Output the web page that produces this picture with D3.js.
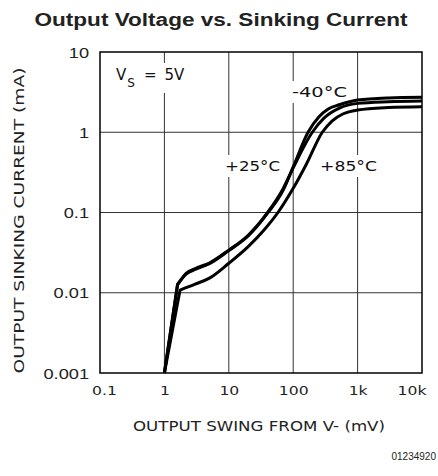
<!DOCTYPE html>
<html>
<head>
<meta charset="utf-8">
<script src="https://cdn.jsdelivr.net/npm/d3@7"></script>
<style>
  body { margin: 0; background: #fff; }
  svg { display: block; }
</style>
</head>
<body>
<div id="chart"></div>
<script>
// Axis ticks
const xTicks = [0.1, 1, 10, 100, 1000, 10000];
const xTickLabels = ['0.1', '1', '10', '100', '1k', '10k'];
const yTicks = [0.001, 0.01, 0.1, 1, 10];
const yTickLabels = ['0.001', '0.01', '0.1', '1', '10'];

// Output swing from V- (mV) vs sinking current (mA)
const swingM40 = [1, 1.6, 2.2, 3, 5, 10, 20, 40, 70, 100, 170, 250, 350, 520, 1000, 3000, 10000];
const sinkM40  = [0.001, 0.0128, 0.0172, 0.0195, 0.023, 0.0335, 0.051, 0.098, 0.19, 0.37, 1.0, 1.55, 1.95, 2.2, 2.52, 2.68, 2.73];

const swing25 = [1, 1.6, 2.2, 3, 5, 10, 20, 40, 70, 100, 198, 300, 520, 1000, 3000, 10000];
const sink25  = [0.001, 0.0125, 0.0176, 0.02, 0.0235, 0.034, 0.052, 0.1, 0.2, 0.36, 1.0, 1.5, 2.0, 2.29, 2.4, 2.45];

const swing85 = [1, 1.75, 3, 5, 10, 20, 35, 58, 100, 160, 283, 400, 600, 1000, 3000, 10000];
const sink85  = [0.001, 0.0108, 0.0128, 0.0152, 0.0233, 0.0376, 0.06, 0.1, 0.2, 0.4, 1.0, 1.38, 1.7, 1.89, 2.03, 2.08];

const series = [
    { name: '-40', x: swingM40, y: sinkM40 },
    { name: '+25', x: swing25, y: sink25 },
    { name: '+85', x: swing85, y: sink85 }
];

const W = 438, H = 476;
const margin = { top: 52, right: 16, bottom: 103, left: 100 };
const width = W - margin.left - margin.right;
const height = H - margin.top - margin.bottom;

const svg = d3.select('#chart').append('svg')
    .attr('width', W)
    .attr('height', H);

const plotFont = 'DejaVu Sans, sans-serif';
const sansFont = 'Liberation Sans, Arial, sans-serif';

// Title
svg.append('text')
    .attr('x', 221)
    .attr('y', 26)
    .attr('text-anchor', 'middle')
    .attr('font-family', sansFont)
    .attr('font-weight', 'bold')
    .attr('font-size', 18)
    .attr('fill', '#222')
    .attr('textLength', 373)
    .attr('lengthAdjust', 'spacingAndGlyphs')
    .text('Output Voltage vs. Sinking Current');

const g = svg.append('g')
    .attr('transform', `translate(${margin.left},${margin.top})`);

const xScale = d3.scaleLog().domain([0.1, 10000]).range([0, width]);
const yScale = d3.scaleLog().domain([0.001, 10]).range([height, 0]);

// Grid lines
g.append('g')
    .selectAll('line.vgrid')
    .data(xTicks.slice(1, -1))
    .enter()
    .append('line')
    .attr('x1', d => xScale(d)).attr('x2', d => xScale(d))
    .attr('y1', 0).attr('y2', height)
    .attr('stroke', '#333')
    .attr('stroke-width', 1);

g.append('g')
    .selectAll('line.hgrid')
    .data(yTicks.slice(1, -1))
    .enter()
    .append('line')
    .attr('x1', 0).attr('x2', width)
    .attr('y1', d => yScale(d)).attr('y2', d => yScale(d))
    .attr('stroke', '#333')
    .attr('stroke-width', 1);

// Y tick labels
const yAxis = g.append('g')
    .call(d3.axisLeft(yScale).tickValues(yTicks).tickSize(0).tickPadding(0)
        .tickFormat((d, i) => yTickLabels[i]));
yAxis.select('.domain').remove();
yAxis.selectAll('text')
    .attr('x', 0)
    .attr('dy', null)
    .attr('dominant-baseline', 'central')
    .attr('font-family', sansFont)
    .attr('font-size', 14)
    .attr('fill', '#222')
    .attr('transform', 'translate(-11,0) scale(1.3,1)');

// X tick labels
const xAxis = g.append('g')
    .attr('transform', `translate(0,${height})`)
    .call(d3.axisBottom(xScale).tickValues(xTicks).tickSize(0).tickPadding(0)
        .tickFormat((d, i) => xTickLabels[i]));
xAxis.select('.domain').remove();
xAxis.selectAll('text')
    .attr('y', 0)
    .attr('dy', null)
    .attr('font-family', plotFont)
    .attr('font-size', 12.5)
    .attr('fill', '#222')
    .attr('text-anchor', (d, i) => i === xTicks.length - 1 ? 'end' : 'middle')
    .attr('transform', (d, i) => {
        const dx = i === 0 ? 4 : (i === xTicks.length - 1 ? 4 : 0);
        return `translate(${dx},22) scale(1.25,1)`;
    });

// Axis titles
g.append('text')
    .attr('x', width / 2 - 2)
    .attr('y', height + 58)
    .attr('text-anchor', 'middle')
    .attr('font-family', plotFont)
    .attr('font-size', 14)
    .attr('fill', '#222')
    .attr('textLength', 252)
    .attr('lengthAdjust', 'spacingAndGlyphs')
    .text('OUTPUT SWING FROM V- (mV)');

g.append('text')
    .attr('transform', `translate(${-margin.left + 24},${height / 2 + 8}) rotate(-90)`)
    .attr('text-anchor', 'middle')
    .attr('font-family', plotFont)
    .attr('font-size', 14)
    .attr('fill', '#222')
    .attr('textLength', 306)
    .attr('lengthAdjust', 'spacingAndGlyphs')
    .text('OUTPUT SINKING CURRENT (mA)');

// Figure code
svg.append('text')
    .attr('x', 436)
    .attr('y', 460)
    .attr('text-anchor', 'end')
    .attr('font-family', sansFont)
    .attr('font-size', 10)
    .attr('fill', '#222')
    .text('01234920');

// Annotations (white box behind each one breaks the grid line)
const notes = g.append('g');

function addNote(x, y, txt, len) {
    return notes.append('text')
        .attr('x', x)
        .attr('y', y)
        .attr('font-family', plotFont)
        .attr('font-size', 14)
        .attr('fill', '#111')
        .attr('textLength', len)
        .attr('lengthAdjust', 'spacingAndGlyphs')
        .text(txt);
}

const vs = notes.append('text')
    .attr('x', 16)
    .attr('y', 28)
    .attr('font-family', plotFont)
    .attr('font-size', 15)
    .attr('fill', '#111');
vs.append('tspan').text('V');
vs.append('tspan').attr('font-size', 12).attr('dy', 7).attr('dx', 1).text('S');
vs.append('tspan').attr('dy', -7).attr('dx', 9).text('=');
vs.append('tspan').attr('dx', 8).text('5V');

const n40 = addNote(192, 45, '-40°C', 55);
const n25 = addNote(125, 119, '+25°C', 55);
const n85 = addNote(220, 119, '+85°C', 57);

[vs, n40, n25, n85].forEach(t => {
    const b = t.node().getBBox();
    notes.insert('rect', 'text')
        .attr('x', b.x - 3)
        .attr('y', b.y - 3)
        .attr('width', b.width + 6)
        .attr('height', b.height + 6)
        .attr('fill', '#fff');
});

// Curves: straight rise from the first point to the knee, smooth after it
const line = d3.line()
    .x(d => xScale(d[0]))
    .y(d => yScale(d[1]))
    .curve(d3.curveMonotoneX);

function curvePath(s) {
    const pts = s.x.map((v, i) => [v, s.y[i]]);
    const rest = line(pts.slice(1));
    return `M${xScale(pts[0][0])},${yScale(pts[0][1])}L` + rest.slice(1);
}

g.append('g')
    .selectAll('path.curve')
    .data(series)
    .enter()
    .append('path')
    .attr('class', 'curve')
    .attr('d', curvePath)
    .attr('fill', 'none')
    .attr('stroke', '#000')
    .attr('stroke-width', 3)
    .attr('stroke-linejoin', 'round');

// Plot frame
g.append('rect')
    .attr('x', 0)
    .attr('y', 0)
    .attr('width', width)
    .attr('height', height)
    .attr('fill', 'none')
    .attr('stroke', '#000')
    .attr('stroke-width', 1.5);
</script>
</body>
</html>
